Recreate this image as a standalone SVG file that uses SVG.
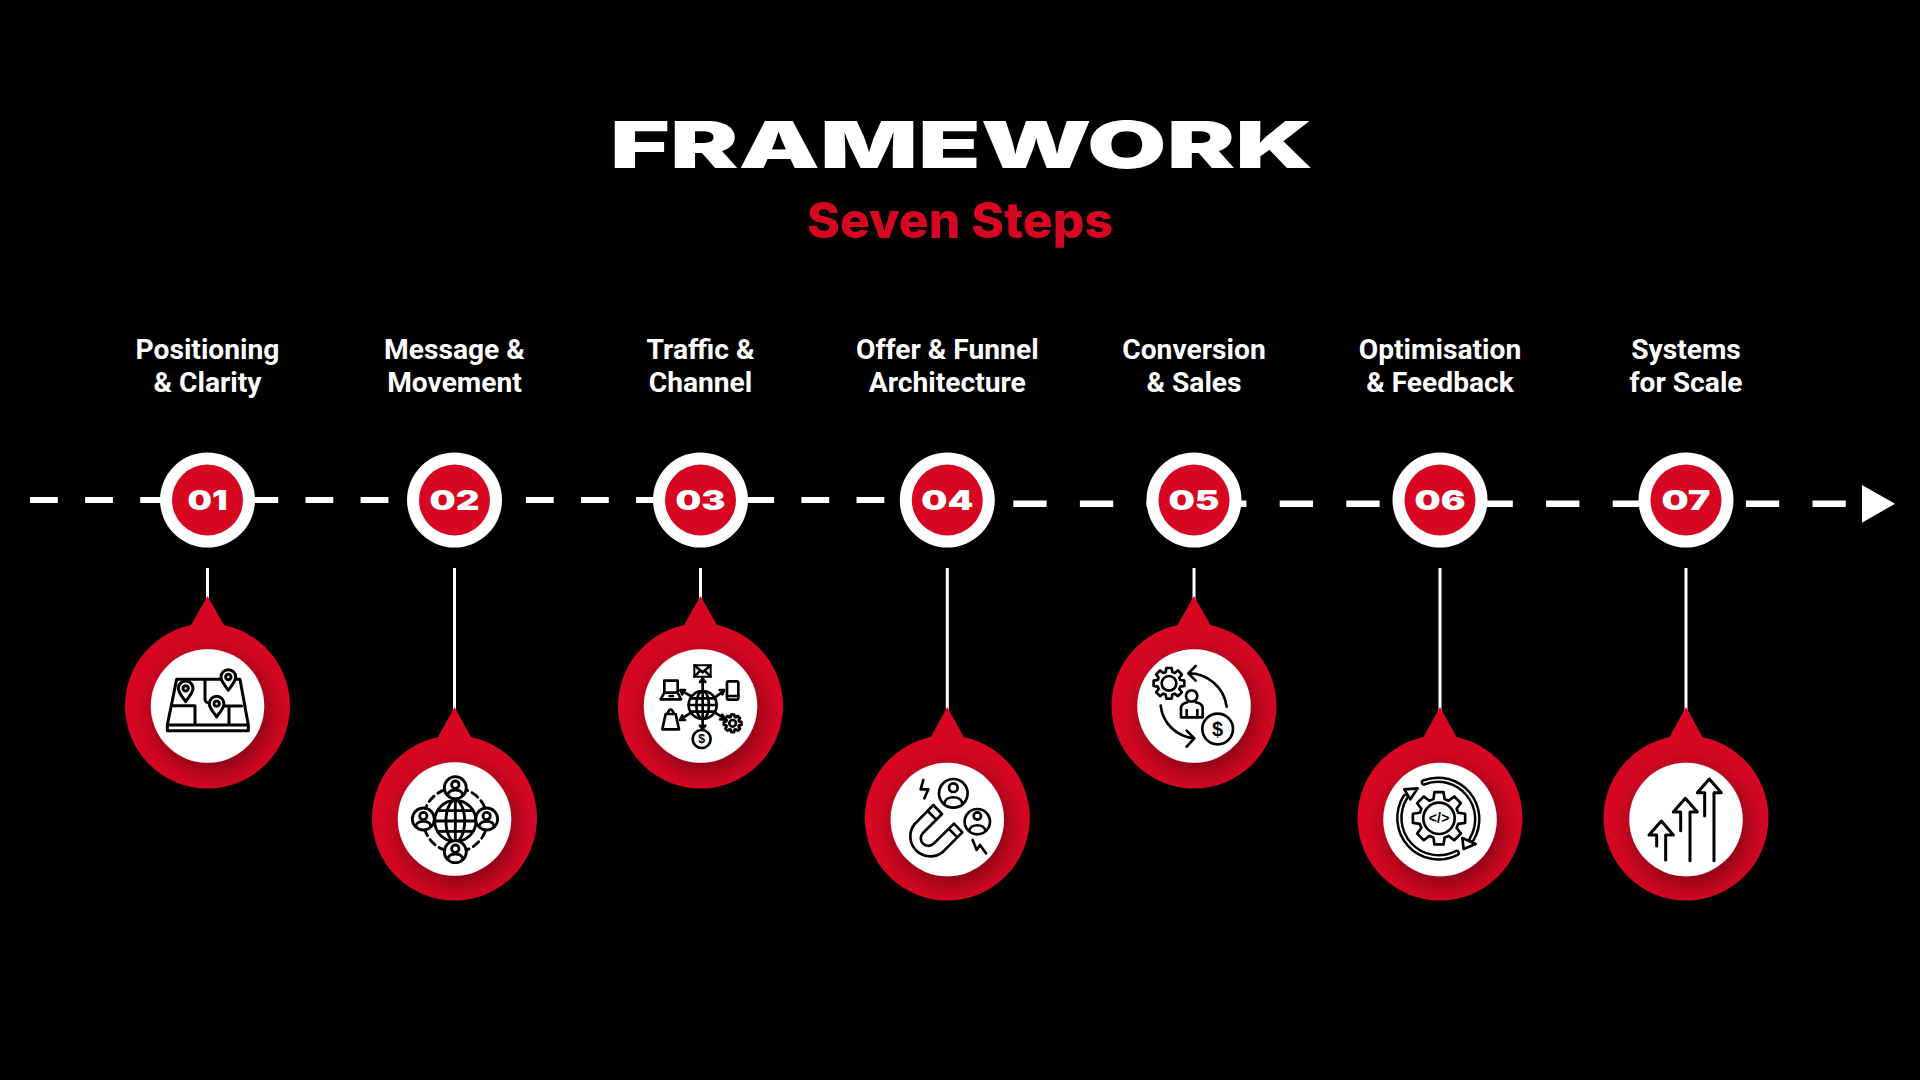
<svg xmlns="http://www.w3.org/2000/svg" width="1920" height="1080" viewBox="0 0 1920 1080">
<style>
.bg{fill:#000}
.t{font-family:Inter,"Liberation Sans",sans-serif;font-weight:900;text-anchor:middle}
.lb{font-family:Roboto,"Liberation Sans",sans-serif;font-weight:700;font-size:28.2px;fill:#fff;text-anchor:middle}
.num{font-family:Inter,"Liberation Sans",sans-serif;font-weight:900;font-size:27.5px;fill:#fff;text-anchor:middle}
.ring{fill:#fff}.core{fill:#d70722}.pin{fill:#d70722}
.face{fill:#fff;filter:url(#sh)}
.ic{fill:none;stroke:#000;stroke-width:9;stroke-linecap:round;stroke-linejoin:round}
.w{fill:#fff}
.stem{stroke:#fff;stroke-width:3;fill:none}
</style>
<defs>
<filter id="sh" x="-50%" y="-50%" width="200%" height="200%"><feDropShadow dx="4" dy="8" stdDeviation="13" flood-color="#000" flood-opacity=".45"/></filter>
<path id="mp" d="M0 40C-8 27-22 14-22 0A22 22 0 0 1 22 0C22 14 8 27 0 40Z"/>
<polygon id="gear" points="72,-21 98,-17 98,17 72,21 66,36 82,57 57,82 36,66 21,72 17,98 -17,98 -21,72 -36,66 -57,82 -82,57 -66,36 -72,21 -98,17 -98,-17 -72,-21 -66,-36 -82,-57 -57,-82 -36,-66 -21,-72 -17,-98 17,-98 21,-72 36,-66 57,-82 82,-57 66,-36"/>
<g id="usr"><circle r="33" class="w"/><circle cy="-9" r="11"/><path d="M-22 22C-22 2 22 2 22 22"/></g>
</defs>
<rect class="bg" width="1920" height="1080"/>
<text class="t" x="961.5" y="168" font-size="65" fill="#fff" textLength="703" lengthAdjust="spacingAndGlyphs">FRAMEWORK</text>
<text class="t" x="960" y="238" font-size="50" fill="#d70722" style="font-weight:800" textLength="306" lengthAdjust="spacingAndGlyphs">Seven Steps</text>
<g id="connectors">
<path d="M30 500H885" stroke="#fff" stroke-width="6" stroke-dasharray="27.8 27.3"/>
<path d="M1013.3 503.7H1847" stroke="#fff" stroke-width="6.5" stroke-dasharray="33.3 33.3"/>
<polygon points="1862,485 1895,503.8 1862,522.7" fill="#fff"/>
<path class="stem" d="M207.5 568V600M454.5 568V712M700.5 568V600M947.3 568V712M1194 568V600M1440 568V712M1686 568V712"/>
</g>
<g id="step-01">
<text class="lb" x="207.5" y="359">Positioning</text><text class="lb" x="207.5" y="391.7">&amp; Clarity</text>
<circle class="ring" cx="207.5" cy="500" r="47.5"/><circle class="core" cx="207.5" cy="500" r="35.5"/>
<text class="num" x="207.5" y="509.5" textLength="40" lengthAdjust="spacingAndGlyphs">01</text>
<polygon class="pin" points="207.5,596 224.5,626 190.5,626"/><circle class="pin" cx="207.5" cy="706" r="82.5"/><circle class="face" cx="207.5" cy="706" r="56.7"/>
<g class="ic" transform="translate(110 590) scale(.3333)">
<path d="M200 268H390L415 405V422H172V405ZM172 405H415M285 268V328Q285 338 300 340M185 347H255V405M340 348H395M357 348V405"/>
<use href="#mp" x="227" y="295" class="w"/><circle cx="227" cy="295" r="8"/>
<use href="#mp" x="355" y="261" class="w"/><circle cx="355" cy="261" r="8"/>
<use href="#mp" x="320" y="341" class="w"/><circle cx="320" cy="341" r="8"/>
</g>
</g>
<g id="step-02">
<text class="lb" x="454.5" y="359">Message &amp;</text><text class="lb" x="454.5" y="391.7">Movement</text>
<circle class="ring" cx="454.5" cy="500" r="47.5"/><circle class="core" cx="454.5" cy="500" r="35.5"/>
<text class="num" x="454.5" y="509.5" textLength="50" lengthAdjust="spacingAndGlyphs">02</text>
<polygon class="pin" points="454.5,707 471.5,738 437.5,738"/><circle class="pin" cx="454.5" cy="818" r="82.5"/><circle class="face" cx="454.5" cy="819" r="56.7"/>
<g class="ic" transform="translate(390 740) scale(.3333)" style="stroke-width:8.5">
<circle cx="196" cy="240" r="96" stroke-dasharray="22 14"/>
<circle cx="196" cy="243" r="62" class="w"/><ellipse cx="196" cy="243" rx="28" ry="62"/><path d="M196 181V305M134 243H258M143 212H249M143 274H249"/>
<use href="#usr" x="196" y="143"/><use href="#usr" x="100" y="237"/><use href="#usr" x="290" y="237"/><use href="#usr" x="196" y="335"/>
</g>
</g>
<g id="step-03">
<text class="lb" x="700.5" y="359">Traffic &amp;</text><text class="lb" x="700.5" y="391.7">Channel</text>
<circle class="ring" cx="700.5" cy="500" r="47.5"/><circle class="core" cx="700.5" cy="500" r="35.5"/>
<text class="num" x="700.5" y="509.5" textLength="50" lengthAdjust="spacingAndGlyphs">03</text>
<polygon class="pin" points="700.5,596 717.5,626 683.5,626"/><circle class="pin" cx="700.5" cy="706" r="82.5"/><circle class="face" cx="700.5" cy="706" r="56.7"/>
<g class="ic" transform="translate(635 640) scale(.3333)" style="stroke-width:8">
<circle cx="203" cy="195" r="42"/><ellipse cx="203" cy="195" rx="19" ry="42"/><path d="M203 153V237M161 195H245M167 175H239M167 215H239"/>
<path d="M203 150V118M195 126L203 116L211 126M168 168L138 152M150 150L136 150L142 163M240 172L268 152M254 150L268 150L262 163M168 218L137 238M142 226L135 240L150 240M240 218L268 235M262 224L270 238L255 238M203 237V265M195 257L203 267L211 257"/>
<rect x="178" y="76" width="49" height="34" style="stroke-width:6"/><path d="M178 76L203 97L227 76M178 110L196 92M227 110L209 92"/>
<rect x="88" y="122" width="40" height="36"/><path d="M88 158L77 178H138L128 158M104 168H114"/>
<rect x="276" y="124" width="34" height="55" rx="4"/><path d="M276 168H310"/>
<path d="M92 222H122L132 268H82ZM97 222Q107 195 117 222"/>
<use href="#gear" transform="translate(293 250) scale(.27)" style="stroke-width:30"/><circle cx="293" cy="250" r="10"/>
<circle cx="200" cy="297" r="27"/>
<text x="200" y="310" font-family="'Liberation Sans',sans-serif" font-weight="700" font-size="37" text-anchor="middle" fill="#000" stroke="none">$</text>
</g>
</g>
<g id="step-04">
<text class="lb" x="947.3" y="359">Offer &amp; Funnel</text><text class="lb" x="947.3" y="391.7">Architecture</text>
<circle class="ring" cx="947.3" cy="500" r="47.5"/><circle class="core" cx="947.3" cy="500" r="35.5"/>
<text class="num" x="947.3" y="509.5" textLength="52" lengthAdjust="spacingAndGlyphs">04</text>
<polygon class="pin" points="947.3,707 964.3,738 930.3,738"/><circle class="pin" cx="947.3" cy="818" r="82.5"/><circle class="face" cx="947.3" cy="819.5" r="56.7"/>
<g class="ic" transform="translate(880 750) scale(.3333)" style="stroke-width:8">
<circle cx="220" cy="130" r="43"/><circle cx="220" cy="113" r="13"/><path d="M193 162C195 135 245 135 247 162"/>
<circle cx="292" cy="215" r="38"/><circle cx="292" cy="198" r="11"/><path d="M268 243C270 220 314 220 316 243"/>
<path d="M130 90L122 118H145L133 145M278 270L290 300L300 285L318 310"/>
<path d="M160 165L103 223A60 60 0 0 0 187 307L247 247L222 221L161 281A22 22 0 0 1 129 249L186 192ZM143 183L169 209M232 262L206 236"/>
</g>
</g>
<g id="step-05">
<text class="lb" x="1194" y="359">Conversion</text><text class="lb" x="1194" y="391.7">&amp; Sales</text>
<circle class="ring" cx="1194" cy="500" r="47.5"/><circle class="core" cx="1194" cy="500" r="35.5"/>
<text class="num" x="1194" y="509.5" textLength="51" lengthAdjust="spacingAndGlyphs">05</text>
<polygon class="pin" points="1194,596 1211,626 1177,626"/><circle class="pin" cx="1194" cy="706" r="82.5"/><circle class="face" cx="1194" cy="706" r="56.7"/>
<g class="ic" transform="translate(1130 640) scale(.3333)" style="stroke-width:8">
<use href="#gear" transform="translate(117 130) scale(.47)" style="stroke-width:17"/><circle cx="117" cy="130" r="22"/>
<path d="M290 200A115 115 0 0 0 175 100M197 78L175 100L197 122M92 197A110 110 0 0 0 193 295M170 272L193 295L170 320"/>
<circle cx="185" cy="168" r="17"/><path d="M153 232V205Q153 190 172 187M218 232V205Q218 190 198 187M153 232H218M170 210V232M202 210V232"/>
<circle cx="263" cy="267" r="46" class="w"/>
<text x="263" y="289" font-family="'Liberation Sans',sans-serif" font-weight="700" font-size="60" text-anchor="middle" fill="#000" stroke="none">$</text>
</g>
</g>
<g id="step-06">
<text class="lb" x="1440" y="359">Optimisation</text><text class="lb" x="1440" y="391.7">&amp; Feedback</text>
<circle class="ring" cx="1440" cy="500" r="47.5"/><circle class="core" cx="1440" cy="500" r="35.5"/>
<text class="num" x="1440" y="509.5" textLength="51" lengthAdjust="spacingAndGlyphs">06</text>
<polygon class="pin" points="1440,707 1457,738 1423,738"/><circle class="pin" cx="1440" cy="818" r="82.5"/><circle class="face" cx="1440" cy="819.5" r="56.7"/>
<g class="ic" transform="translate(1375 750) scale(.3333)" style="stroke-width:8">
<use href="#gear" transform="translate(192 205) scale(.8)" style="stroke-width:10"/>
<circle cx="192" cy="205" r="47"/>
<text x="192" y="219" font-family="'Liberation Sans',sans-serif" font-weight="700" font-size="42" text-anchor="middle" fill="#000" stroke="none" textLength="62" lengthAdjust="spacing">&lt;/&gt;</text>
<path d="M147 97A118 118 0 0 1 290 268" style="stroke-width:20"/><path d="M147 97A118 118 0 0 1 290 268" style="stroke:#fff;stroke-width:5"/>
<path d="M245 309A118 118 0 0 1 92 140" style="stroke-width:20"/><path d="M245 309A118 118 0 0 1 92 140" style="stroke:#fff;stroke-width:5"/>
<polygon points="262,264 302,282 266,297" class="w"/>
<polygon points="88,118 128,115 106,148" class="w"/>
</g>
</g>
<g id="step-07">
<text class="lb" x="1686" y="359">Systems</text><text class="lb" x="1686" y="391.7">for Scale</text>
<circle class="ring" cx="1686" cy="500" r="47.5"/><circle class="core" cx="1686" cy="500" r="35.5"/>
<text class="num" x="1686" y="509.5" textLength="49" lengthAdjust="spacingAndGlyphs">07</text>
<polygon class="pin" points="1686,707 1703,738 1669,738"/><circle class="pin" cx="1686" cy="818" r="82.5"/><circle class="face" cx="1686" cy="819.5" r="56.7"/>
<g class="ic" transform="translate(1620 750) scale(.3333)">
<path d="M110 288V255H87L124 213L160 255H137V330M182 242V186H160L196 145L232 186H210V332M254 198V128H232L268 87L304 128H282V332"/>
</g>
</g>
</svg>
